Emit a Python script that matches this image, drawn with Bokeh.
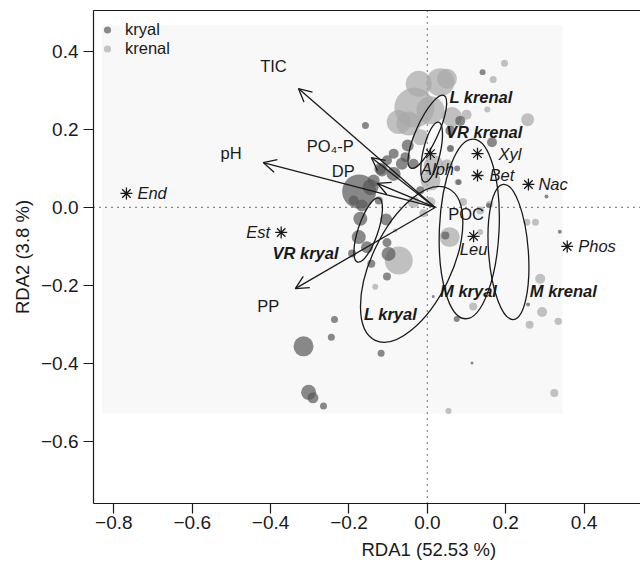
from bokeh.plotting import figure
from bokeh.models import (ColumnDataSource, Range1d, FixedTicker, LinearAxis, Span, Title,
                          BoxAnnotation, Arrow, OpenHead, Legend, LegendItem)
from bokeh.core.properties import value
from bokeh.embed import file_html
from bokeh.resources import INLINE

# ---------------- data ----------------
# site scores (RDA1, RDA2) and bubble weight
kryal_x = [0.141, -0.158, 0.084, 0.059, 0.165, 0.059, 0.076, 0.080, 0.156, 0.304, 0.338, 0.257,
           0.075, 0.015, 0.114, 0.046, -0.050, -0.056, -0.086, -0.103, -0.120, -0.137, -0.035,
           -0.065, -0.086, -0.116, -0.174, -0.145, -0.188, -0.167, -0.124, -0.171, -0.105,
           -0.175, -0.192, -0.154, -0.103, -0.099, -0.143, -0.103, -0.237, -0.245, -0.316,
           -0.118, -0.303, -0.292, -0.265, -0.018]
kryal_y = [0.347, 0.210, 0.222, 0.197, 0.167, 0.151, 0.100, 0.065, 0.005, 0.028, -0.062, -0.249,
           -0.286, -0.228, -0.399, -0.072, 0.159, 0.129, 0.138, 0.121, 0.099, 0.069, 0.112,
           0.112, 0.086, 0.095, 0.041, 0.052, 0.018, 0.005, 0.018, -0.029, -0.031,
           -0.076, -0.118, -0.102, -0.090, -0.119, -0.144, -0.177, -0.287, -0.333, -0.356,
           -0.374, -0.474, -0.488, -0.509, 0.044]
kryal_w = [3, 3.5, 5, 5, 5, 3.5, 3, 3, 2.5, 2, 2, 2,
           3, 1.5, 1.5, 4, 6, 5, 5, 5, 6, 6, 5,
           6, 7, 6, 17, 8, 5, 6, 4, 7, 6,
           7, 4, 6, 4.5, 7, 4, 4, 3.5, 3.5, 10,
           3.5, 7.5, 5.5, 3.5, 4]

krenal_x = [0.197, 0.168, 0.153, 0.256, 0.100, -0.033, 0.033, -0.022, 0.050, -0.073, -0.048,
            0.063, 0.008, -0.018, 0.016, 0.008, 0.050, 0.059, 0.077, 0.135, 0.159, 0.091,
            0.057, 0.135, 0.254, 0.276, 0.288, 0.293, 0.334, 0.261, 0.117, 0.324, 0.054,
            -0.073, -0.133, -0.082, -0.035, -0.010, 0.008]
krenal_y = [0.370, 0.328, 0.251, 0.225, 0.238, 0.256, 0.321, 0.317, 0.330, 0.219, 0.215,
            0.232, 0.249, 0.180, 0.108, 0.069, 0.108, 0.151, 0.065, -0.008, 0.008, 0.014,
            -0.076, -0.063, -0.038, -0.038, -0.183, -0.268, -0.292, -0.301, -0.254, -0.476, -0.522,
            -0.136, -0.203, -0.059, 0.014, -0.015, 0.014]
krenal_w = [3.5, 3.5, 3, 6.5, 5, 20, 14, 13, 10, 12, 12,
            10, 14, 8, 10, 10, 6, 3, 3, 4, 3.5, 4,
            10, 3, 3.5, 3.5, 5, 5, 3.7, 4, 4, 4, 3,
            14, 3, 2, 6, 4, 5]

# environmental vectors
env_names = ["TIC", "pH", "PO\u2084-P", "DP", "PP", "POC"]
env_x = [-0.329, -0.419, -0.143, -0.128, -0.337, 0.030]
env_y = [0.305, 0.115, 0.128, 0.062, -0.208, -0.004]
env_origin = (0.02, 0.0)

# species scores
spec_names = ["End", "Est", "Alph", "Xyl", "Bet", "Nac", "Phos", "Leu"]
spec_x = [-0.768, -0.373, 0.008, 0.128, 0.128, 0.258, 0.357, 0.118]
spec_y = [0.036, -0.064, 0.138, 0.138, 0.082, 0.059, -0.100, -0.074]

# group ellipses
group_names = ["L krenal", "VR krenal", "VR kryal", "L kryal", "M kryal", "M krenal"]
group_cx = [0.000, 0.011, -0.151, -0.040, 0.107, 0.207]
group_cy = [0.194, 0.142, -0.058, -0.146, -0.055, -0.114]
group_major = [0.204, 0.157, 0.172, 0.430, 0.459, 0.346]
group_minor = [0.056, 0.044, 0.051, 0.204, 0.153, 0.102]
group_angle = [65.5, 77.0, 71.5, 64.3, 87.4, 94.2]
group_lab_x = [0.137, 0.145, -0.311, -0.094, 0.105, 0.347]
group_lab_y = [0.283, 0.193, -0.118, -0.272, -0.213, -0.213]

x_ticks = [-0.8, -0.6, -0.4, -0.2, 0.0, 0.2, 0.4]
x_tick_labels = ["\u22120.8", "\u22120.6", "\u22120.4", "\u22120.2", "0.0", "0.2", "0.4"]
y_ticks = [-0.6, -0.4, -0.2, 0.0, 0.2, 0.4]
y_tick_labels = ["\u22120.6", "\u22120.4", "\u22120.2", "0.0", "0.2", "0.4"]

x_title = "RDA1 (52.53 %)"
y_title = "RDA2 (3.8 %)"

# ---------------- style ----------------
FONT = "Liberation Sans"
INK = "#1a1a1a"
PX = 391.8  # pixels per data unit (for bubble scaling)

env_lab_dx = [-25, -32, -41, -34, -27, 27]
env_lab_dy = [-23, -10, -12, -12, 17, 5]
spec_lab_dx = [11, -11, 7, 21, 12, 10, 11, 0]
spec_lab_dy = [0, 0, 15, 0, 0, 0, 0, 13]
spec_lab_align = ["left", "right", "center", "left", "left", "left", "left", "center"]

p = figure(width=640, height=566, output_backend="svg", toolbar_location=None,
           x_range=Range1d(-0.852, 0.544), y_range=Range1d(-0.759, 0.505),
           min_border_left=93, min_border_right=0, min_border_top=10, min_border_bottom=63,
           background_fill_color="white", border_fill_color="white")
p.outline_line_color = None
p.grid.visible = False

for ax, ticks, labels in ((p.xaxis, x_ticks, x_tick_labels), (p.yaxis, y_ticks, y_tick_labels)):
    ax.ticker = FixedTicker(ticks=ticks)
    ax.major_label_overrides = {t: s for t, s in zip(ticks, labels)}
    ax.major_label_text_font = FONT
    ax.major_label_text_font_size = "19px"
    ax.major_label_text_color = INK
    ax.major_tick_out = 10
    ax.major_tick_in = 0
    ax.minor_tick_line_color = None
    ax.axis_line_color = INK
    ax.axis_line_width = 1.2
    ax.major_tick_line_color = INK
    ax.major_tick_line_width = 1.2
p.xaxis.major_label_standoff = 2
p.yaxis.major_label_standoff = 5
p.yaxis.axis_label = y_title
p.yaxis.axis_label_text_font = FONT
p.yaxis.axis_label_text_font_style = "normal"
p.yaxis.axis_label_text_font_size = "18.5px"
p.yaxis.axis_label_text_color = INK
p.yaxis.axis_label_standoff = 5

# x title as a below-panel title, shifted so it is centred on the full (uncropped) plot region
p.add_layout(Title(text=x_title, align="left", offset=268, standoff=11,
                   text_font=FONT, text_font_size="18.5px", text_font_style="normal",
                   text_color=INK), "below")

top_axis = LinearAxis(ticker=FixedTicker(ticks=[]), major_tick_out=0, major_tick_in=0,
                      minor_tick_out=0, minor_tick_in=0, major_label_standoff=0,
                      major_label_text_font_size="0px", axis_line_color=INK, axis_line_width=1.2)
p.add_layout(top_axis, "above")

# faint panel background
p.add_layout(BoxAnnotation(left=-0.83, right=0.345, bottom=-0.528, top=0.467,
                           fill_color="#f8f8f8", fill_alpha=1.0, line_color=None,
                           level="underlay"))
p.add_layout(Span(location=0, dimension="height", line_color=INK, line_width=1.2,
                  line_dash="1 5", level="underlay"))
p.add_layout(Span(location=0, dimension="width", line_color=INK, line_width=1.2,
                  line_dash="1 5", level="underlay"))

# bubbles
kr = ColumnDataSource(dict(x=kryal_x, y=kryal_y, r=[w / PX for w in kryal_w]))
kn = ColumnDataSource(dict(x=krenal_x, y=krenal_y, r=[w / PX for w in krenal_w]))
p.circle(x="x", y="y", radius="r", source=kn, fill_color="#a8a8a8", fill_alpha=0.7, line_color=None)
p.circle(x="x", y="y", radius="r", source=kr, fill_color="#585858", fill_alpha=0.7, line_color=None)

# ellipses
gsrc = ColumnDataSource(dict(x=group_cx, y=group_cy, w=group_major, h=group_minor, a=group_angle,
                             lx=group_lab_x, ly=group_lab_y, name=group_names))
p.ellipse(x="x", y="y", width="w", height="h", angle="a", angle_units="deg", source=gsrc,
          fill_color=None, line_color=INK, line_width=1.3)

# arrows
ax0, ay0 = env_origin
keep = [i for i in range(len(env_names)) if (env_x[i] - ax0) ** 2 + (env_y[i] - ay0) ** 2 > 0.05 ** 2]
asrc = ColumnDataSource(dict(x0=[ax0] * len(keep), y0=[ay0] * len(keep),
                             x1=[env_x[i] for i in keep], y1=[env_y[i] for i in keep]))
p.add_layout(Arrow(end=OpenHead(size=13, line_width=1.3, line_color=INK),
                   x_start="x0", y_start="y0", x_end="x1", y_end="y1", source=asrc,
                   line_width=1.3, line_color=INK))
esrc = ColumnDataSource(dict(x=env_x, y=env_y, t=env_names, dx=env_lab_dx, dy=env_lab_dy))
p.text(x="x", y="y", text="t", x_offset="dx", y_offset="dy", source=esrc,
       text_font=value(FONT), text_font_size="16.5px", text_color=INK,
       text_align="center", text_baseline="middle")

# species
ssrc = ColumnDataSource(dict(x=spec_x, y=spec_y, t=spec_names, dx=spec_lab_dx, dy=spec_lab_dy,
                             al=spec_lab_align))
p.scatter(x="x", y="y", source=ssrc, marker="asterisk", size=12, line_color=INK, line_width=1.3)
p.text(x="x", y="y", text="t", x_offset="dx", y_offset="dy", source=ssrc,
       text_font=value(FONT), text_font_size="16.5px", text_font_style="italic",
       text_color=INK, text_align="al", text_baseline="middle")

# group labels
p.text(x="lx", y="ly", text="name", source=gsrc, text_font=value(FONT), text_font_size="16.5px",
       text_font_style="bold italic", text_color=INK, text_align="center", text_baseline="middle")

# legend (proxy renderers with no visible points)
nan = float("nan")
lk = p.scatter(x=[nan], y=[nan], marker="circle", size=7, fill_color="#8a8a8a", line_color=None)
lc = p.scatter(x=[nan], y=[nan], marker="circle", size=7, fill_color="#c4c4c4", line_color=None)
legend = Legend(items=[LegendItem(label="kryal", renderers=[lk]),
                       LegendItem(label="krenal", renderers=[lc])],
                location=(5, 445), border_line_color=None, background_fill_alpha=0,
                margin=0, padding=0, spacing=0, glyph_width=18, glyph_height=19,
                label_height=19, label_standoff=9, label_text_font=FONT,
                label_text_font_size="16.5px", label_text_color=INK)
p.add_layout(legend)

open("out.html", "w").write(file_html(p, INLINE))
